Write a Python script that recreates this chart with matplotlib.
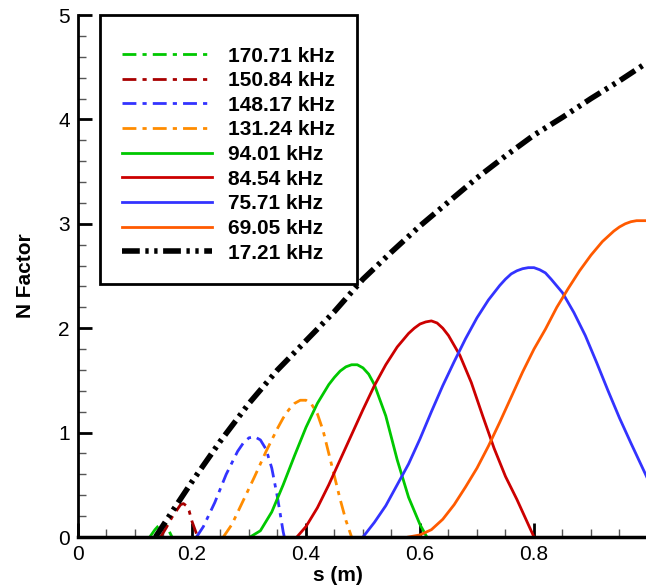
import numpy as np
import matplotlib.pyplot as plt
from matplotlib.ticker import MultipleLocator

plt.rcParams['font.family'] = ['Liberation Sans', 'DejaVu Sans']

# N factor curves, s (m) vs N
s_17 = [0.136, 0.16, 0.2, 0.25, 0.3, 0.35, 0.4, 0.45, 0.5, 0.55, 0.6, 0.65,
        0.7, 0.75, 0.8, 0.85, 0.9, 0.95, 1.0]
n_17 = [0.0, 0.2, 0.53, 0.92, 1.28, 1.6, 1.88, 2.16, 2.47, 2.73, 2.98, 3.21,
        3.44, 3.65, 3.85, 4.02, 4.2, 4.37, 4.55]

s_69 = [0.58, 0.6, 0.62, 0.64, 0.66, 0.68, 0.7, 0.72, 0.74, 0.76, 0.78, 0.8,
        0.82, 0.84, 0.86, 0.88, 0.9, 0.92, 0.94, 0.95, 0.96, 0.97, 0.98,
        0.99, 1.0]
n_69 = [0.0, 0.02, 0.07, 0.17, 0.31, 0.48, 0.66, 0.87, 1.1, 1.34, 1.58, 1.8,
        1.99, 2.2, 2.38, 2.55, 2.7, 2.83, 2.93, 2.97, 3.0, 3.02, 3.03,
        3.03, 3.03]

s_75 = [0.5, 0.52, 0.54, 0.56, 0.58, 0.6, 0.62, 0.64, 0.66, 0.68, 0.7, 0.72,
        0.73, 0.74, 0.75, 0.76, 0.77, 0.78, 0.79, 0.8, 0.81, 0.82, 0.83,
        0.85, 0.87, 0.89, 0.91, 0.93, 0.95, 0.97, 1.0]
n_75 = [0.0, 0.14, 0.3, 0.5, 0.7, 0.94, 1.2, 1.45, 1.68, 1.9, 2.1, 2.27,
        2.34, 2.41, 2.47, 2.52, 2.55, 2.57, 2.58, 2.58, 2.56, 2.53, 2.47,
        2.34, 2.15, 1.93, 1.67, 1.4, 1.14, 0.9, 0.55]

s_84 = [0.384, 0.4, 0.42, 0.44, 0.46, 0.48, 0.5, 0.52, 0.54, 0.56, 0.58, 0.59,
        0.6, 0.61, 0.62, 0.63, 0.64, 0.65, 0.67, 0.69, 0.71, 0.73, 0.75,
        0.77, 0.79, 0.8]
n_84 = [0.0, 0.1, 0.28, 0.5, 0.74, 0.98, 1.22, 1.45, 1.65, 1.82, 1.95, 2.0,
        2.04, 2.06, 2.07, 2.05, 2.0, 1.93, 1.74, 1.48, 1.16, 0.85, 0.58,
        0.36, 0.12, 0.0]

s_94 = [0.302, 0.32, 0.34, 0.36, 0.38, 0.4, 0.42, 0.44, 0.45, 0.46, 0.47,
        0.48, 0.49, 0.5, 0.51, 0.52, 0.54, 0.56, 0.58, 0.6, 0.612]
n_94 = [0.0, 0.06, 0.24, 0.5, 0.78, 1.05, 1.28, 1.46, 1.53, 1.59, 1.63,
        1.65, 1.65, 1.62, 1.56, 1.46, 1.16, 0.74, 0.38, 0.12, 0.0]

s_131 = [0.255, 0.27, 0.29, 0.31, 0.33, 0.35, 0.36, 0.37, 0.38, 0.39, 0.4,
         0.41, 0.42, 0.43, 0.44, 0.45, 0.46, 0.47, 0.48]
n_131 = [0.0, 0.12, 0.35, 0.58, 0.82, 1.04, 1.14, 1.22, 1.28, 1.31, 1.31,
         1.27, 1.18, 1.02, 0.8, 0.58, 0.36, 0.16, 0.0]

s_148 = [0.208, 0.22, 0.24, 0.26, 0.28, 0.29, 0.3, 0.31, 0.32, 0.33, 0.34,
         0.35, 0.36, 0.362]
n_148 = [0.0, 0.1, 0.33, 0.6, 0.82, 0.9, 0.95, 0.96, 0.93, 0.84, 0.66,
         0.38, 0.05, 0.0]

s_150 = [0.145, 0.155, 0.165, 0.175, 0.18, 0.185, 0.19, 0.195, 0.2, 0.21]
n_150 = [0.0, 0.09, 0.19, 0.27, 0.31, 0.32, 0.3, 0.25, 0.15, 0.0]

s_170 = [0.126, 0.135, 0.14, 0.145, 0.15, 0.155, 0.165]
n_170 = [0.0, 0.07, 0.1, 0.12, 0.13, 0.11, 0.0]

labels = ['170.71 kHz', '150.84 kHz', '148.17 kHz', '131.24 kHz', '94.01 kHz',
          '84.54 kHz', '75.71 kHz', '69.05 kHz', '17.21 kHz']

fig = plt.figure(figsize=(6.46, 5.86), dpi=100)
ax = fig.add_axes([0.1207, 0.0836, 0.8793, 0.8908])

dd = (0, (5, 2.2, 1.5, 2.2))
ax.plot(s_170, n_170, color='#00c800', lw=2, ls=dd, label=labels[0])
ax.plot(s_150, n_150, color='#a80000', lw=2, ls=dd, label=labels[1])
ax.plot(s_148, n_148, color='#3333ff', lw=2, ls=dd, label=labels[2])
ax.plot(s_131, n_131, color='#ff8c00', lw=2, ls=dd, label=labels[3])
ax.plot(s_94, n_94, color='#00c800', lw=2, label=labels[4])
ax.plot(s_84, n_84, color='#cc0000', lw=2, label=labels[5])
ax.plot(s_75, n_75, color='#3333ff', lw=2, label=labels[6])
ax.plot(s_69, n_69, color='#ff5a00', lw=2, label=labels[7])
ax.plot(s_17, n_17, color='black', lw=4, ls=(0, (3.2, 1.0, 0.6, 1.0, 0.6, 1.0)),
        label=labels[8])

ax.set_xlim(0, 0.9965)
ax.set_ylim(0, 5)
ax.spines['top'].set_visible(False)
ax.spines['right'].set_visible(False)
ax.spines['left'].set_linewidth(2)
ax.spines['bottom'].set_linewidth(2.5)

ax.xaxis.set_minor_locator(MultipleLocator(0.05))
ax.yaxis.set_major_locator(MultipleLocator(1))
ax.yaxis.set_minor_locator(MultipleLocator(0.2))
ax.set_xticks([0, 0.2, 0.4, 0.6, 0.8])
ax.set_xticklabels(['0', '0.2', '0.4', '0.6', '0.8'])
ax.tick_params(which='major', direction='in', length=10, width=2, labelsize=15, pad=6)
ax.tick_params(which='minor', direction='in', length=6, width=1, color='#555555')

ax.set_xlabel('s (m)', fontsize=15, fontweight='bold')
ax.set_ylabel('N Factor', fontsize=15, fontweight='bold')
ax.xaxis.set_label_coords(0.458, -0.055)
ax.yaxis.set_label_coords(-0.076, 0.5)

leg = ax.legend(loc='upper left', bbox_to_anchor=(0.039, 1.0), borderaxespad=0,
                prop={'weight': 'bold', 'size': 15}, handlelength=4.3,
                handletextpad=0.8, labelspacing=0.27, borderpad=1.05,
                fancybox=False, framealpha=1, title=' ',
                title_fontproperties={'size': 2})
leg.get_frame().set_edgecolor('black')
leg.get_frame().set_linewidth(2)

fig.savefig('out.png', dpi=100)
